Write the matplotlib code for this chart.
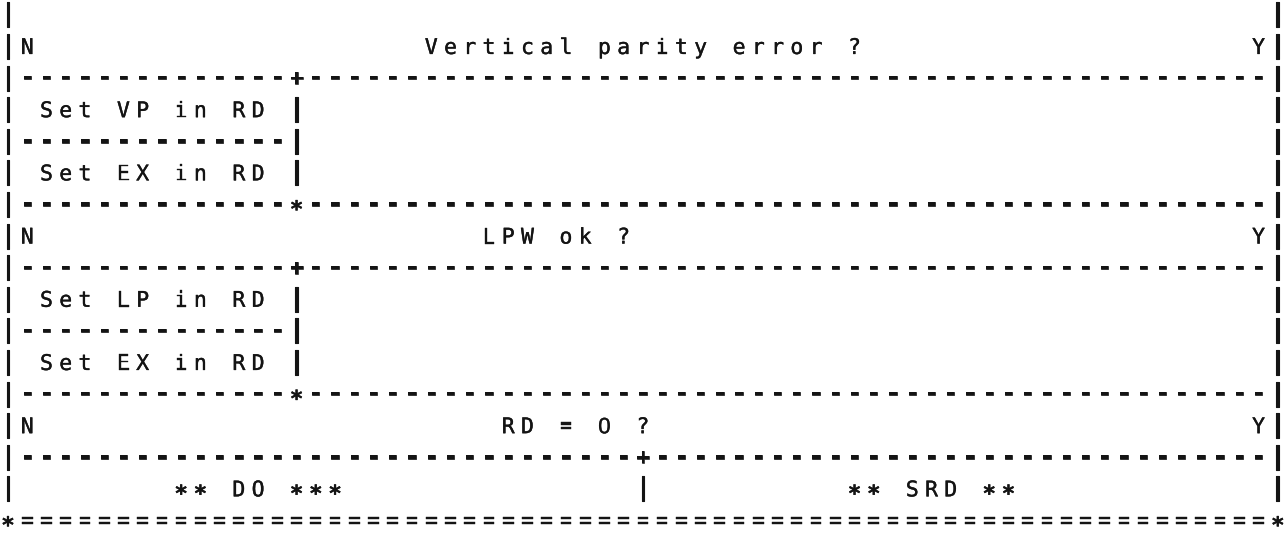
"""
Structure diagram of the read-check routine, redrawn as a character grid
(one text object per printed character, like the original line-printer output).
"""

import matplotlib
matplotlib.use('Agg')
import matplotlib.pyplot as plt
import matplotlib.patheffects as pe

# diagram content
questions = ["Vertical parity error ?", "LPW ok ?", "RD = 0 ?"]
actions = [["Set VP in RD", "Set EX in RD"],
           ["Set LP in RD", "Set EX in RD"]]
outcomes = ["** DO ***", "** SRD **"]

# grid layout (columns / rows of the printout)
N_COLS = 67
SPLIT = 15
MID = 33
question_cols = [22, 25, 26]
outcome_cols = [9, 44]

COL_PX = 19.24
ROW_PX = 31.6
X0_PX, Y0_PX = 8.0, 14.5
INK = '#141414'
MONO = 'DejaVu Sans Mono'

# per glyph: font size (pt), weight, glyph centre above baseline (em), ink spread (pt)
GLYPH = {
    'letter': (15.5, 'normal', 0.365, 0.25),
    '0': (16, 'normal', 0.36, 0.25),
    '|': (18, 'bold', 0.28, 0.8),
    '-': (17, 'bold', 0.29, 0.5),
    '=': (15, 'bold', 0.33, 0.3),
    '+': (16, 'bold', 0.33, 0.4),
    '*': (16, 'bold', 0.56, 0.3),
}
# the printer's zero is a plain oval, no inner dot
FAMILY = {'0': 'Liberation Sans'}


def blank():
    return ['|'] + [' '] * (N_COLS - 2) + ['|']


def rule(joints, fill='-'):
    row = ['|'] + [fill] * (N_COLS - 2) + ['|']
    for col, ch in joints.items():
        row[col] = ch
    return row


def place(row, col, text):
    for i, ch in enumerate(text):
        row[col + i] = ch
    return row


def condition(text, col):
    row = place(blank(), 1, 'N')
    place(row, col, text)
    place(row, N_COLS - 2, 'Y')
    return row


def build_rows():
    rows = [blank()]
    for i, acts in enumerate(actions):
        rows.append(condition(questions[i], question_cols[i]))
        rows.append(rule({SPLIT: '+'}))
        for j, a in enumerate(acts):
            r = place(blank(), 2, a)
            r[SPLIT] = '|'
            rows.append(r)
            if j < len(acts) - 1:
                r = blank()
                for c in range(1, SPLIT):
                    r[c] = '-'
                r[SPLIT] = '|'
                rows.append(r)
        rows.append(rule({SPLIT: '*'}))
    rows.append(condition(questions[2], question_cols[2]))
    rows.append(rule({MID: '+'}))
    r = blank()
    r[MID] = '|'
    for text, col in zip(outcomes, outcome_cols):
        place(r, col, text)
    rows.append(r)
    bottom = rule({}, fill='=')
    bottom[0] = bottom[-1] = '*'
    rows.append(bottom)
    return rows


def draw(rows, output_path='out.png'):
    fig = plt.figure(figsize=(12.86, 5.37), dpi=100)
    ax = fig.add_axes([0, 0, 1, 1])
    ax.set_xlim(-X0_PX / COL_PX, (1286 - X0_PX) / COL_PX)
    ax.set_ylim((537 - Y0_PX) / ROW_PX, -Y0_PX / ROW_PX)
    ax.axis('off')

    for r, row in enumerate(rows):
        for c, ch in enumerate(row):
            if ch == ' ':
                continue
            size, weight, centre, spread = GLYPH.get(ch, GLYPH['letter'])
            em_px = size * 100 / 72
            y = r + centre * em_px / ROW_PX
            ax.text(c, y, ch, family=FAMILY.get(ch, MONO), fontsize=size,
                    fontweight=weight, color=INK, ha='center', va='baseline',
                    path_effects=[pe.withStroke(linewidth=spread, foreground=INK)])

    fig.savefig(output_path, dpi=100, facecolor='white')
    plt.close(fig)


if __name__ == '__main__':
    draw(build_rows())
